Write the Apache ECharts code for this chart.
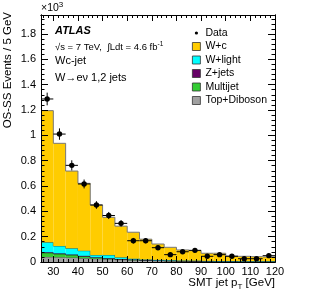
<!DOCTYPE html>
<html><head><meta charset="utf-8">
<script src="https://cdn.jsdelivr.net/npm/echarts@6/dist/echarts.min.js"></script>
<style>html,body{margin:0;padding:0;background:#fff}#c{width:316px;height:305px}</style>
</head><body><div id="c"></div>
<script>
// ---- data (values in units of 10^3 events per 5 GeV) ----
const binLow = [25,30,35,40,45,50,55,60,65,70,75,80,85,90,95,100,105,110,115];
const binWidth = 5;
const dataVals = [1.287,1.010,0.763,0.616,0.450,0.367,0.305,0.168,0.168,0.113,0.058,0.081,0.092,0.045,0.058,0.045,0.026,0.026,0.050];
const dataErr  = [0.050,0.045,0.040,0.035,0.030,0.028,0.026,0.022,0.020,0.018,0.016,0.015,0.014,0.013,0.012,0.011,0.010,0.010,0.010];
const wc       = [1.040,0.811,0.610,0.532,0.395,0.298,0.246,0.209,0.160,0.125,0.101,0.083,0.079,0.060,0.061,0.039,0.038,0.035,0.033];
const wlight   = [0.078,0.058,0.049,0.040,0.018,0.025,0.013,0.006,0.005,0.004,0.004,0.003,0.003,0.002,0.002,0.002,0.002,0.002,0.002];
const zjets    = [0.005,0.005,0.004,0.004,0.003,0.002,0.002,0.002,0.001,0.001,0.001,0.001,0.001,0.001,0.001,0.001,0.001,0.001,0.001];
const multijet = [0.032,0.025,0.020,0.015,0.008,0.006,0.004,0.003,0.002,0.002,0.002,0.001,0.001,0.001,0.001,0.001,0.001,0.001,0.001];
const topdib   = [0.040,0.038,0.035,0.030,0.026,0.022,0.018,0.015,0.012,0.010,0.008,0.007,0.006,0.005,0.004,0.004,0.003,0.003,0.003];
const xMajorTicks = [30,40,50,60,70,80,90,100,110,120];
const xTickLabels = ['30','40','50','60','70','80','90','100','110','120'];
const yMajorTicks = [0,0.2,0.4,0.6,0.8,1.0,1.2,1.4,1.6,1.8];
const yTickLabels = ['0','0.2','0.4','0.6','0.8','1','1.2','1.4','1.6','1.8'];
const xMin = 25, xMax = 120, yMin = 0, yMax = 1.95;

const FONT = "'Liberation Sans', Arial, Helvetica, sans-serif";
const xMinorTicks = []; for (let v = 26; v < 120; v += 2) if (v % 10 !== 0) xMinorTicks.push(v);
const yMinorTicks = []; for (let i = 0; i <= 48; i++) { const v = +(i*0.04).toFixed(2); if (i % 5 !== 0) yMinorTicks.push(v); }

// components from bottom to top
const comps = [
  {name:'Top+Diboson', vals: topdib,   color:'#a0a0a0', line:'#555555'},
  {name:'Multijet',    vals: multijet, color:'#33cc33', line:'#1f5f1f'},
  {name:'Z+jets',      vals: zjets,    color:'#660066', line:'#330033'},
  {name:'W+light',     vals: wlight,   color:'#00ffff', line:'#117777'},
  {name:'W+c',         vals: wc,       color:'#ffcc00', line:'#777777'}
];
let base = binLow.map(() => 0);
const stackSeries = comps.map(c => {
  const tops = base.map((b, i) => b + c.vals[i]);
  const data = binLow.map((lo, i) => [lo, lo + binWidth, base[i], tops[i], i < binLow.length - 1 ? tops[i+1] : tops[i]]);
  base = tops;
  return {
    type: 'custom', name: c.name, xAxisIndex: 0, yAxisIndex: 0,
    itemStyle: {color: c.color},
    encode: {x: [0,1], y: [2,3]},
    data: data,
    renderItem: function (params, api) {
      const x0 = api.value(0), x1 = api.value(1), b = api.value(2), t = api.value(3), tn = api.value(4);
      const p0 = api.coord([x0, t]), p1 = api.coord([x1, b]), pn = api.coord([x1, tn]);
      return {type:'group', children:[
        {type:'rect', shape:{x:p0[0], y:p0[1], width:p1[0]-p0[0], height:p1[1]-p0[1]}, style:{fill:c.color}},
        {type:'polyline', shape:{points:[[p0[0],p0[1]],[p1[0],p0[1]],[pn[0],pn[1]]]}, style:{stroke:c.line, lineWidth:1, fill:null}}
      ]};
    }
  };
});

const dataSeries = {
  type:'custom', name:'Data', xAxisIndex:0, yAxisIndex:0,
  itemStyle:{color:'#000'},
  encode:{x:0, y:1},
  data: binLow.map((lo, i) => [lo + binWidth/2, dataVals[i], dataErr[i]]),
  renderItem: function (params, api) {
    const x = api.value(0), y = api.value(1), e = api.value(2);
    const c = api.coord([x, y]), t = api.coord([x, y + e]), b = api.coord([x, y - e]);
    const l = api.coord([x - binWidth/2, y]), r = api.coord([x + binWidth/2, y]);
    return {type:'group', children:[
      {type:'line', shape:{x1:l[0], y1:c[1], x2:r[0], y2:c[1]}, style:{stroke:'#000', lineWidth:1}},
      {type:'line', shape:{x1:c[0], y1:t[1], x2:c[0], y2:b[1]}, style:{stroke:'#000', lineWidth:1}},
      {type:'circle', shape:{cx:c[0], cy:c[1], r:2.7}, style:{fill:'#000'}}
    ]};
  }
};

function xAx(pos, ticks, len, labels) {
  return {type:'value', min:xMin, max:xMax, position:pos, z:10,
    axisLine:{show:true, onZero:false, lineStyle:{color:'#000', width:1}},
    axisTick:{show:true, inside:true, length:len, customValues:ticks, lineStyle:{color:'#000', width:1}},
    axisLabel:{show:!!labels, customValues:ticks, margin:4, color:'#000', fontSize:11, fontFamily:FONT,
      formatter: v => { const i = xMajorTicks.indexOf(v); return i >= 0 ? xTickLabels[i] : ''; }},
    splitLine:{show:false}};
}
function yAx(pos, ticks, len, labels) {
  return {type:'value', min:yMin, max:yMax, position:pos, z:10,
    axisLine:{show:true, onZero:false, lineStyle:{color:'#000', width:1}},
    axisTick:{show:true, inside:true, length:len, customValues:ticks, lineStyle:{color:'#000', width:1}},
    axisLabel:{show:!!labels, customValues:ticks, margin:5, color:'#000', fontSize:11, fontFamily:FONT,
      formatter: v => { const i = yMajorTicks.findIndex(t => Math.abs(t - v) < 1e-6); return i >= 0 ? yTickLabels[i] : ''; }},
    splitLine:{show:false}};
}

const chart = echarts.init(document.getElementById('c'), null, {renderer:'canvas'});
chart.setOption({
  animation:false,
  backgroundColor:'#fff',
  grid:{left:41, right:41, top:15, bottom:43, containLabel:false},
  xAxis:[xAx('bottom', xMajorTicks, 6, true), xAx('bottom', xMinorTicks, 3, false),
         xAx('top', xMajorTicks, 6, false), xAx('top', xMinorTicks, 3, false)],
  yAxis:[yAx('left', yMajorTicks, 7, true), yAx('left', yMinorTicks, 3.5, false),
         yAx('right', yMajorTicks, 7, false), yAx('right', yMinorTicks, 3.5, false)],
  legend:{orient:'vertical', left:187, top:22, itemWidth:8, itemHeight:8, itemGap:1.5,
    textStyle:{fontSize:10.5, fontFamily:FONT, color:'#000', lineHeight:12},
    itemStyle:{borderColor:'#333', borderWidth:0.8},
    data:[{name:'Data', icon:'path://M0,0 M10,10 M3,5 A2,2 0 1,1 7,5 A2,2 0 1,1 3,5 Z', itemStyle:{borderWidth:0}},
          {name:'W+c', icon:'rect'},{name:'W+light', icon:'rect'},{name:'Z+jets', icon:'rect'},
          {name:'Multijet', icon:'rect'},{name:'Top+Diboson', icon:'rect'}]},
  graphic:[
    {type:'text', x:8, y:12, rotation:Math.PI/2,
      style:{text:'OS-SS Events / 5 GeV', font:"11.5px " + FONT, fill:'#000', textAlign:'right', textVerticalAlign:'middle'}},
    {type:'text', x:275, y:283,
      style:{text:'{a|SMT jet p}{s|T}{a| [GeV]}', textAlign:'right', textVerticalAlign:'middle',
        rich:{a:{fontSize:11.5, fontFamily:FONT, fill:'#000'}, s:{fontSize:8, fontFamily:FONT, fill:'#000', padding:[8,0,0,0]}}}},
    {type:'text', x:41, y:8,
      style:{text:'{a|×10}{s|3}', textAlign:'left', textVerticalAlign:'middle',
        rich:{a:{fontSize:10.5, fontFamily:FONT, fill:'#000'}, s:{fontSize:8, fontFamily:FONT, fill:'#000', padding:[0,0,7,0]}}}},
    {type:'text', x:55, y:31,
      style:{text:'ATLAS', font:"italic bold 11px " + FONT, fill:'#000', textAlign:'left', textVerticalAlign:'middle'}},
    {type:'text', x:55, y:47,
      style:{text:'{a|√s = 7 TeV,  ∫Ldt = 4.6 fb}{s|-1}', textAlign:'left', textVerticalAlign:'middle',
        rich:{a:{fontSize:9.5, fontFamily:FONT, fill:'#000'}, s:{fontSize:6.5, fontFamily:FONT, fill:'#000', padding:[0,0,5,0]}}}},
    {type:'text', x:55, y:61,
      style:{text:'Wc-jet', font:"11px " + FONT, fill:'#000', textAlign:'left', textVerticalAlign:'middle'}},
    {type:'text', x:55, y:78,
      style:{text:'W→eν 1,2 jets', font:"11px " + FONT, fill:'#000', textAlign:'left', textVerticalAlign:'middle'}}
  ],
  series: stackSeries.concat([dataSeries])
});
</script></body></html>
